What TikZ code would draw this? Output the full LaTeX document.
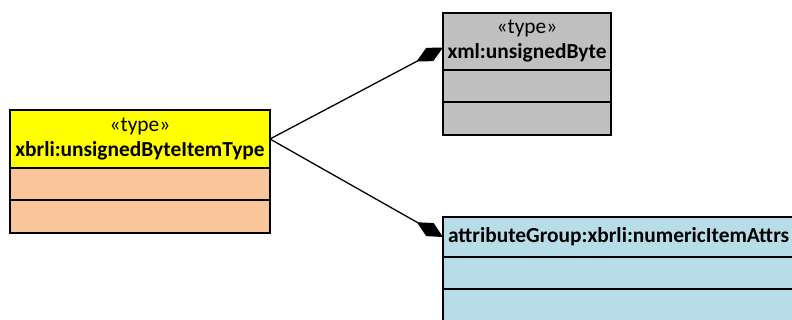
\documentclass[tikz,border=0pt]{standalone}
\usepackage{fontspec}
\setmainfont{Carlito}
\usepackage{xcolor}
\usetikzlibrary{positioning, arrows.meta}
\definecolor{typeyellow}{RGB}{255,255,0}
\definecolor{typepeach}{RGB}{248,198,154}
\definecolor{typegray}{RGB}{192,192,192}
\definecolor{groupblue}{RGB}{183,221,232}

\begin{document}
\begin{tikzpicture}[x=1pt, y=-1pt,
    every node/.style={rectangle, draw, line width=1.2pt, inner sep=0pt, outer sep=0pt},
    head/.style={minimum height=#1, align=center, font=\fontsize{21.4}{25}\selectfont},
    comp/.style={minimum height=#1},
    compose/.style={draw, line width=1.3pt, {Diamond[length=30pt, width=15pt]}-}
]
\useasboundingbox (0,0) rectangle (792,320);

% base type of the item type
\node[head=57pt, minimum width=168pt, fill=typegray, anchor=north west] (xmlhead) at (443,13)
    {«type»\\\textbf{xml:unsignedByte}};
\node[comp=32pt, minimum width=168pt, fill=typegray, below=0pt of xmlhead] (xmlattr) {};
\node[comp=33pt, minimum width=168pt, fill=typegray, below=0pt of xmlattr] (xmlops) {};

% the item type itself
\node[head=58pt, minimum width=260pt, fill=typeyellow, anchor=north west] (itemhead) at (10,110)
    {«type»\\\textbf{xbrli:unsignedByteItemType}};
\node[comp=32pt, minimum width=260pt, fill=typepeach, below=0pt of itemhead] (itemattr) {};
\node[comp=33pt, minimum width=260pt, fill=typepeach, below=0pt of itemattr] (itemops) {};

% attribute group
\node[head=40pt, minimum width=356pt, fill=groupblue, anchor=north west,
      align=left, inner xsep=5pt, text width=346pt] (grouphead) at (443,217)
    {\textbf{attributeGroup:xbrli:numericItemAttrs}};
\node[comp=32pt, minimum width=356pt, fill=groupblue, below=0pt of grouphead] (groupattr) {};
\node[comp=33pt, minimum width=356pt, fill=groupblue, below=0pt of groupattr] (groupops) {};

\draw[compose] ([yshift=-6pt]xmlhead.west) -- (itemhead.east);
\draw[compose] (grouphead.west) -- (itemhead.east);
\end{tikzpicture}
\end{document}
